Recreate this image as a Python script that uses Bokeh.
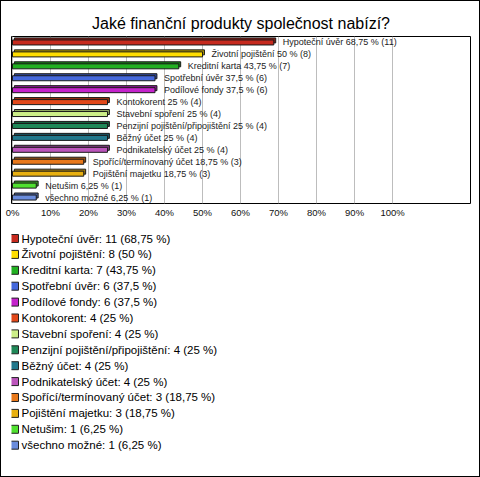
from bokeh.plotting import figure
from bokeh.models import ColumnDataSource, FactorRange, Range1d, FixedTicker, PrintfTickFormatter
from bokeh.transform import dodge
from bokeh.layouts import column
from bokeh.embed import file_html
from bokeh.resources import INLINE
from bokeh.core.properties import value

TITLE = "Jaké finanční produkty společnost nabízí?"
categories = ["Hypoteční úvěr", "Životní pojištění", "Kreditní karta", "Spotřební úvěr",
              "Podílové fondy", "Kontokorent", "Stavební spoření",
              "Penzijní pojištění/připojištění", "Běžný účet", "Podnikatelský účet",
              "Spořící/termínovaný účet", "Pojištění majetku", "Netušim", "všechno možné"]
counts = [11, 8, 7, 6, 6, 4, 4, 4, 4, 4, 3, 3, 1, 1]
percents = [68.75, 50, 43.75, 37.5, 37.5, 25, 25, 25, 25, 25, 18.75, 18.75, 6.25, 6.25]
colors = ["#C62A1E", "#FFDD00", "#22B022", "#4468DC", "#C423CC", "#E2481A", "#CCEE88",
          "#1F8858", "#22788C", "#BB55BB", "#E8781A", "#E8B010", "#50E030", "#6A8CDC"]
tick_values = [0, 10, 20, 30, 40, 50, 60, 70, 80, 90, 100]

FONT = "Liberation Sans"


def darker(c, f=0.7):
    r, g, b = int(c[1:3], 16), int(c[3:5], 16), int(c[5:7], 16)
    return "#%02x%02x%02x" % (int(r * f), int(g * f), int(b * f))


def fmt(v):
    return format(v, "g").replace(".", ",")


bar_labels = [f"{c} {fmt(p)} % ({n})" for c, p, n in zip(categories, percents, counts)]
legend_labels = [f"{c}: {n} ({fmt(p)} %)" for c, p, n in zip(categories, percents, counts)]

src = ColumnDataSource(dict(cat=categories, value=percents, color=colors,
                            shade=[darker(c) for c in colors], label=bar_labels,
                            legend=legend_labels, idx=list(range(len(categories)))))

p = figure(width=478, height=224, y_range=FactorRange(factors=categories[::-1]),
           x_range=Range1d(-0.263, 120.5), output_backend="svg", toolbar_location=None,
           y_axis_location=None, min_border_left=10, min_border_right=9,
           min_border_top=35, min_border_bottom=22)
p.title.text = TITLE
p.title.align = "center"
p.title.text_font = FONT
p.title.text_font_size = "16px"
p.title.text_font_style = "normal"
p.title.text_color = "#000000"
p.outline_line_color = "#000000"
p.outline_line_alpha = 1.0
p.outline_line_width = 1
p.background_fill_color = "white"
p.border_fill_color = "white"
p.ygrid.visible = False
p.xgrid.ticker = FixedTicker(ticks=tick_values)
p.xgrid.grid_line_color = "#BDBDBD"
p.xaxis.ticker = FixedTicker(ticks=tick_values)
p.xaxis.formatter = PrintfTickFormatter(format="%d%%")
p.xaxis.axis_line_color = None
p.xaxis.major_tick_line_color = None
p.xaxis.minor_tick_line_color = None
p.xaxis.major_tick_out = 0
p.xaxis.major_tick_in = 0
p.xaxis.minor_tick_out = 0
p.xaxis.major_label_standoff = 3
p.xaxis.major_label_text_font = FONT
p.xaxis.major_label_text_font_size = "9.5px"
p.xaxis.major_label_text_color = "#111111"

p.hbar(y=dodge("cat", 0.17, range=p.y_range), left=0.5, right=dodge("value", 0.5),
       height=0.42, fill_color="shade", line_color="#1a1a1a", line_width=1, source=src)
p.hbar(y="cat", left=0, right="value", height=0.42, fill_color="color",
       line_color="#1a1a1a", line_width=1, source=src)
p.text(x="value", y="cat", text="label", x_offset=9, text_baseline="middle",
       text_font=value(FONT), text_font_size="9px", text_color="#222222", source=src)

# legend panel; its frame is aligned with the chart frame by the column layout
q = figure(width=478, height=251, x_range=Range1d(10, 469),
           y_range=Range1d(14.97, -0.818), output_backend="svg", toolbar_location=None,
           x_axis_location=None, y_axis_location=None, min_border=0,
           min_border_left=0, min_border_right=0, min_border_top=0, min_border_bottom=0)
q.grid.visible = False
q.outline_line_color = None
q.background_fill_color = "white"
q.border_fill_color = "white"
q.rect(x=13, y="idx", width=8, height=8, width_units="screen", height_units="screen",
       fill_color="color", line_color="#222222", source=src)
q.text(x=20, y="idx", text="legend", text_baseline="middle", text_font=value(FONT),
       text_font_size="11.5px", text_color="#000000", source=src)

layout = column(p, q, styles={"border": "1px solid black"})

open("out.html", "w").write(file_html(layout, INLINE))
